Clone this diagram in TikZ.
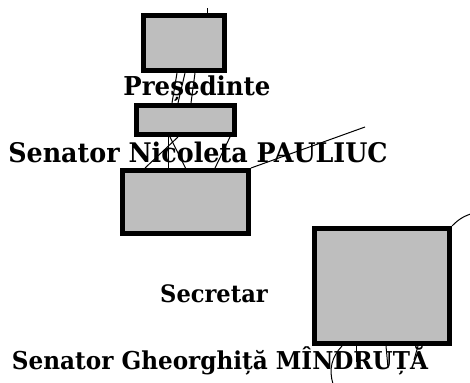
\documentclass[tikz,border=0pt]{standalone}
\usepackage{fontspec}
\setmainfont{DejaVu Serif}[FakeStretch=0.94]
\usetikzlibrary{positioning}
\definecolor{boxgray}{RGB}{190,190,190}

\begin{document}
\begin{tikzpicture}[x=1pt,y=-1pt,
    member/.style={draw,fill=boxgray,line width=5pt,inner sep=0pt},
    title/.style={anchor=base,inner sep=0pt,font=\bfseries\fontsize{#1}{#1}\selectfont},
    link/.style={line width=1pt}]
    \useasboundingbox (0,0) rectangle (470,382);
    \node[member,minimum width=81,minimum height=55] (pre) at (184,43) {};
    \node[member,minimum width=98,minimum height=29] (vice) at (185.5,120) {};
    \node[member,minimum width=126,minimum height=63] (sen) at (185.5,202) {};
    \node[member,minimum width=135,minimum height=115] (sec) at (382,286) {};

    \node[title=26] (tpre) at (197,96) {Președinte};
    \node[title=27] (tvice) at (198,162) {Senator Nicoleta PAULIUC};
    \node[title=24] (tsec) at (214,302) {Secretar};
    \node[title=24.6] (tsen) at (220,369) {Senator Gheorghiță MÎNDRUȚĂ};

    \coordinate (up) at (207,8);
    \coordinate (far) at (365,127);
    \coordinate (edge) at (474,213);
    \coordinate (d1) at (333,384);
    \coordinate (d2) at (356,362);
    \coordinate (d3) at (388,368);
    \coordinate (d4) at (414,360);

    \path[link]
    ([xshift=23]pre.north) edge (up)
    ([xshift=-7]pre.south) edge ([xshift=-13.5]vice.north)
    ([xshift=1]pre.south) edge ([xshift=-7.5]vice.north)
    ([xshift=11]pre.south) edge ([xshift=5.5]vice.north)
    ([xshift=-7.5]vice.south) edge ([xshift=-40.5]sen.north)
    ([xshift=-17.5]vice.south) edge ([xshift=-17.5]sen.north)
    ([xshift=-15.5]vice.south) edge (sen.north)
    ([xshift=44.5]vice.south) edge ([xshift=29.5]sen.north)
    (sen.north east) edge (far)
    (sec.north east) edge [bend left=15] (edge)
    ([xshift=-40]sec.south) edge [bend right=30] (d1)
    ([xshift=-26]sec.south) edge (d2)
    ([xshift=4]sec.south) edge (d3)
    ([xshift=36]sec.south) edge (d4);
\end{tikzpicture}
\end{document}
